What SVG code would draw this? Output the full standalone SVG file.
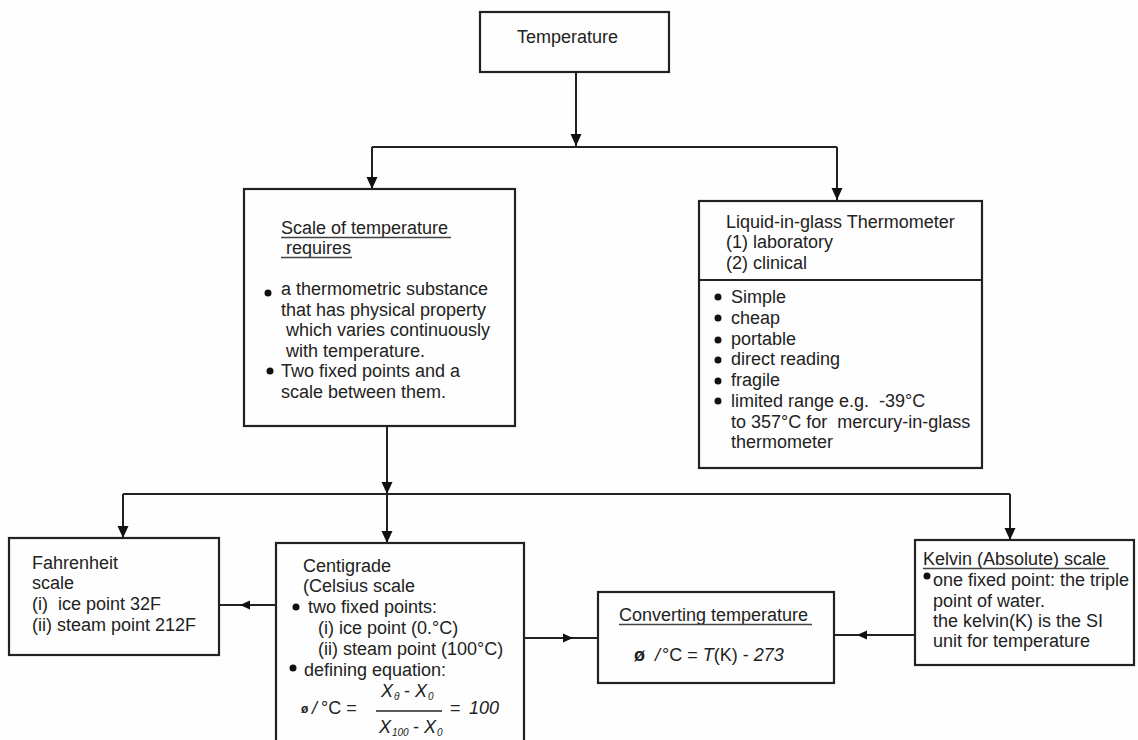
<svg xmlns="http://www.w3.org/2000/svg" width="1138" height="740" viewBox="0 0 1138 740">
<style>
  text { font-family: "Liberation Sans", Arial, sans-serif; font-size: 18px; fill: #222; }
  .box { fill: none; stroke: #222; stroke-width: 2.2; }
  .ln { fill: none; stroke: #222; stroke-width: 2; }
  .ul { stroke: #444; stroke-width: 1.3; }
  .dot { fill: #111; }
  .it { font-style: italic; }
  .sub { font-size: 10px; font-style: italic; }
</style>
<defs>
  <marker id="arr" markerUnits="userSpaceOnUse" markerWidth="12" markerHeight="12" refX="12" refY="6" orient="auto">
    <path d="M0,0.5 L12,6 L0,11.5 z" fill="#111"/>
  </marker>
  <marker id="arrs" markerUnits="userSpaceOnUse" markerWidth="10" markerHeight="10" refX="10" refY="5" orient="auto">
    <path d="M0,0.5 L10,5 L0,9.5 z" fill="#111"/>
  </marker>
</defs>
<rect width="1138" height="740" fill="#fefefe"/>

<g id="connectors">
  <line class="ln" x1="576" y1="72" x2="576" y2="146" marker-end="url(#arr)"/>
  <line class="ln" x1="372" y1="147" x2="837" y2="147"/>
  <line class="ln" x1="372" y1="147" x2="372" y2="189" marker-end="url(#arr)"/>
  <line class="ln" x1="837" y1="147" x2="837" y2="200" marker-end="url(#arr)"/>
  <line class="ln" x1="387" y1="426" x2="387" y2="494" marker-end="url(#arr)"/>
  <line class="ln" x1="123" y1="494" x2="1010" y2="494"/>
  <line class="ln" x1="123" y1="494" x2="123" y2="538" marker-end="url(#arr)"/>
  <line class="ln" x1="387" y1="494" x2="387" y2="543" marker-end="url(#arr)"/>
  <line class="ln" x1="1010" y1="494" x2="1010" y2="540" marker-end="url(#arr)"/>
  <line class="ln" x1="276" y1="605" x2="240" y2="605" marker-end="url(#arrs)"/>
  <line class="ln" x1="240" y1="605" x2="219" y2="605"/>
  <line class="ln" x1="524" y1="638" x2="573" y2="638" marker-end="url(#arrs)"/>
  <line class="ln" x1="573" y1="638" x2="598" y2="638"/>
  <line class="ln" x1="915" y1="635" x2="857" y2="635" marker-end="url(#arrs)"/>
  <line class="ln" x1="857" y1="635" x2="834" y2="635"/>
</g>

<g id="temperature">
  <rect class="box" x="480" y="12" width="189" height="60"/>
  <text x="517" y="43">Temperature</text>
</g>

<g id="scale">
  <rect class="box" x="244" y="189" width="271" height="237"/>
  <text x="281" y="234">Scale of temperature</text>
  <line class="ul" x1="281" y1="237.5" x2="451" y2="237.5"/>
  <text x="286" y="254">requires</text>
  <line class="ul" x1="281" y1="257.5" x2="352" y2="257.5"/>
  <circle class="dot" cx="268" cy="293" r="3.5"/>
  <text x="281" y="295">a thermometric substance</text>
  <text x="281" y="316">that has physical property</text>
  <text x="286" y="336">which varies continuously</text>
  <text x="286" y="357">with temperature.</text>
  <circle class="dot" cx="270" cy="371" r="3.5"/>
  <text x="281" y="377">Two fixed points and a</text>
  <text x="281" y="398">scale between them.</text>
</g>

<g id="liquid">
  <rect class="box" x="699" y="201" width="283" height="267"/>
  <line class="ln" x1="699" y1="280" x2="982" y2="280"/>
  <text x="726" y="228">Liquid-in-glass Thermometer</text>
  <text x="726" y="248">(1) laboratory</text>
  <text x="726" y="269">(2) clinical</text>
  <circle class="dot" cx="718" cy="297" r="3.5"/>
  <text x="731" y="303">Simple</text>
  <circle class="dot" cx="718" cy="318" r="3.5"/>
  <text x="731" y="324">cheap</text>
  <circle class="dot" cx="718" cy="340" r="3.5"/>
  <text x="731" y="345">portable</text>
  <circle class="dot" cx="718" cy="360" r="3.5"/>
  <text x="731" y="365">direct reading</text>
  <circle class="dot" cx="718" cy="381" r="3.5"/>
  <text x="731" y="386">fragile</text>
  <circle class="dot" cx="718" cy="401" r="3.5"/>
  <text x="731" y="407" xml:space="preserve">limited range e.g.  -39°C</text>
  <text x="731" y="428" xml:space="preserve">to 357°C for  mercury-in-glass</text>
  <text x="731" y="448">thermometer</text>
</g>

<g id="fahrenheit">
  <rect class="box" x="9" y="538" width="210" height="117"/>
  <text x="32" y="569">Fahrenheit</text>
  <text x="32" y="589">scale</text>
  <text x="32" y="610" xml:space="preserve">(i)  ice point 32F</text>
  <text x="32" y="631">(ii) steam point 212F</text>
</g>

<g id="centigrade">
  <rect class="box" x="276" y="543" width="248" height="210"/>
  <text x="303" y="572">Centigrade</text>
  <text x="303" y="592">(Celsius scale</text>
  <circle class="dot" cx="296" cy="607" r="3.5"/>
  <text x="308" y="613">two fixed points:</text>
  <text x="318" y="634">(i) ice point (0.°C)</text>
  <text x="318" y="655">(ii) steam point (100°C)</text>
  <circle class="dot" cx="293" cy="668" r="3.5"/>
  <text x="304" y="676">defining equation:</text>
  <text x="301" y="713" style="font-size:12px;font-weight:bold">ø</text>
  <text x="312" y="714" class="it">/</text>
  <text x="321" y="714">°C =</text>
  <text x="381" y="697" class="it">X</text>
  <text x="394" y="700" class="sub">θ</text>
  <text x="404" y="697">-</text>
  <text x="415" y="697" class="it">X</text>
  <text x="428" y="700" class="sub">0</text>
  <line class="ln" x1="376" y1="711" x2="442" y2="711" style="stroke-width:1.6"/>
  <text x="379" y="733" class="it">X</text>
  <text x="392" y="736" class="sub">100</text>
  <text x="413" y="733">-</text>
  <text x="424" y="733" class="it">X</text>
  <text x="437" y="736" class="sub">0</text>
  <text x="450" y="714">=</text>
  <text x="469" y="714" class="it">100</text>
</g>

<g id="converting">
  <rect class="box" x="598" y="592" width="236" height="91"/>
  <text x="619" y="621">Converting temperature</text>
  <line class="ul" x1="619" y1="624.5" x2="812" y2="624.5"/>
  <text x="634" y="661" style="font-weight:bold">ø</text>
  <text x="655" y="661" class="it">/</text>
  <text x="662" y="661">°C = <tspan class="it">T</tspan>(K) - <tspan class="it">273</tspan></text>
</g>

<g id="kelvin">
  <rect class="box" x="915" y="540" width="219" height="125"/>
  <text x="923" y="565">Kelvin (Absolute) scale</text>
  <line class="ul" x1="923" y1="568.5" x2="1109" y2="568.5"/>
  <circle class="dot" cx="927" cy="576" r="3.5"/>
  <text x="933" y="586">one fixed point: the triple</text>
  <text x="933" y="607">point of water.</text>
  <text x="933" y="627">the kelvin(K) is the SI</text>
  <text x="933" y="647">unit for temperature</text>
</g>
</svg>
